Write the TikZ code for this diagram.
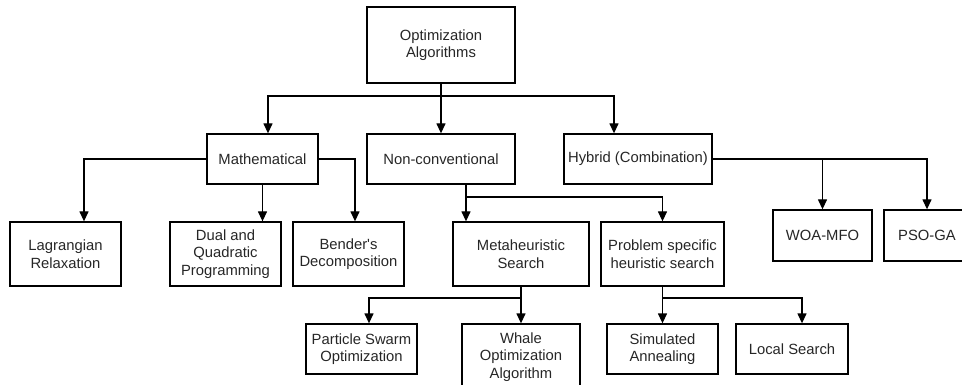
\documentclass[tikz,border=0pt]{standalone}
\usepackage{fontspec}
\setmainfont{Liberation Sans}
\usetikzlibrary{arrows.meta}
\tikzset{
  algbox/.style={draw, line width=1.3pt, align=center, inner sep=2pt,
    text=black!85, font=\fontsize{14.8}{17.5}\selectfont},
  arr/.style={line width=1.3pt, -{Triangle[width=9pt,length=10pt]}},
  lnk/.style={line width=1.3pt}
}
\begin{document}
\begin{tikzpicture}[x=1pt,y=-1pt]
\useasboundingbox (0,0) rectangle (962,385);
\clip (0,0) rectangle (962,385);
\node [algbox, minimum width=148, minimum height=76] (opt) at (441,45) {Optimization\\Algorithms};
\node [algbox, minimum width=111, minimum height=50] (math) at (262.5,159) {Mathematical};
\node [algbox, minimum width=148, minimum height=50] (nonc) at (441,159) {Non-conventional};
\node [algbox, minimum width=148, minimum height=50] (hyb) at (638,159) {Hybrid (Combination)};
\node [algbox, minimum width=111, minimum height=64] (lag) at (65.5,254) {Lagrangian\\Relaxation};
\node [algbox, minimum width=111, minimum height=64] (dual) at (225.5,254) {Dual and\\Quadratic\\Programming};
\node [algbox, minimum width=111, minimum height=64] (bend) at (348.5,254) {Bender\textquotesingle s\\Decomposition};
\node [algbox, minimum width=136, minimum height=64] (meta) at (521,254) {Metaheuristic\\Search};
\node [algbox, minimum width=123, minimum height=64] (prob) at (662.5,254) {Problem specific\\heuristic search};
\node [algbox, minimum width=99, minimum height=51] (woa) at (822.5,235.5) {WOA-MFO};
\node [algbox, minimum width=86, minimum height=51] (psoga) at (927,235.5) {PSO-GA};
\node [algbox, minimum width=111, minimum height=50] (pso) at (361.5,349) {Particle Swarm\\Optimization};
\node [algbox, minimum width=118, minimum height=66] (whale) at (521,357) {Whale\\Optimization\\Algorithm};
\node [algbox, minimum width=111, minimum height=50] (sa) at (662.5,349) {Simulated\\Annealing};
\node [algbox, minimum width=112, minimum height=50] (ls) at (792,349) {Local Search};
\coordinate (j0) at (441,96);
\coordinate (j1) at (466,197);
\coordinate (j2) at (521,298);
\coordinate (j3) at (662.5,298);
\draw [arr] (opt.south) -- (nonc.north);
\draw [arr] (j0) -| ([xshift=5.5]math.north);
\draw [arr] (j0) -| (hyb.north -| 614,0);
\draw [arr] (math.west) -| ([xshift=18.5]lag.north);
\draw [arr] (math.east) -| ([xshift=6.5]bend.north);
\draw [arr] (math.south) -- (math.south |- dual.north);
\draw [lnk] (nonc.south -| j1) -- (j1);
\draw [arr] (j1) -- (j1 |- meta.north);
\draw [arr] (j1) -| (prob.north);
\draw [arr] (hyb.east) -| (psoga.north);
\draw [arr] (woa.north |- hyb.east) -- (woa.north);
\draw [arr] (meta.south) -- (whale.north);
\draw [arr] (j2) -| ([xshift=7.5]pso.north);
\draw [arr] (prob.south) -- (sa.north);
\draw [arr] (j3) -| ([xshift=10]ls.north);
\end{tikzpicture}
\end{document}
